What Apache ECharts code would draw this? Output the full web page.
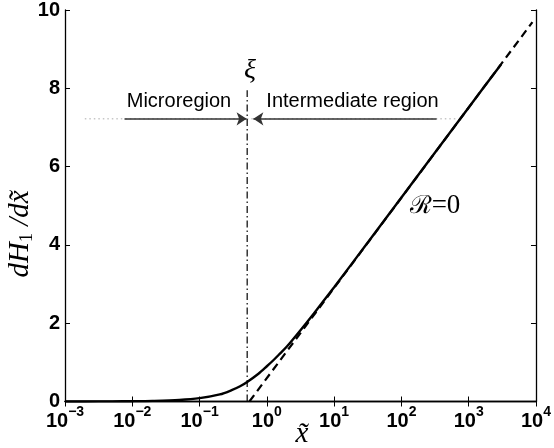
<!DOCTYPE html>
<html>
<head>
<meta charset="utf-8">
<script src="https://cdn.jsdelivr.net/npm/echarts@6/dist/echarts.min.js"></script>
<style>html,body{margin:0;padding:0;background:#fff}#c{width:554px;height:448px}</style>
</head>
<body>
<div id="c"></div>
<script>
// Solid curve (R=0)
const solidX = [0.001, 0.002, 0.005, 0.01, 0.02, 0.05, 0.1, 0.2, 0.3, 0.4, 0.51, 0.75, 1.0, 1.26, 1.58, 2.0, 3.16, 5.0, 10, 31.6, 100, 1000, 3020];
const solidY = [0.0, 0.001, 0.004, 0.008, 0.016, 0.04, 0.085, 0.18, 0.29, 0.39, 0.50, 0.71, 0.90, 1.06, 1.23, 1.41, 1.82, 2.25, 2.92, 4.06, 5.21, 7.51, 8.61];
// Dashed asymptote
const dashX = [0.55, 8850];
const dashY = [0.0, 9.69];
// Vertical xi line
const xiX = [0.51, 0.51];
const xiY = [0.0, 7.95];
// Dotted guide line
const guideX = [0.00197, 680];
const guideY = [7.22, 7.22];
// Arrows
const arrowY = 7.22;
const leftArrowX = [0.00766, 0.50];
const rightArrowX = [333, 0.63];
// Axis ticks
const yTicks = [0, 2, 4, 6, 8, 10];
const xMin = 0.001, xMax = 10000;

const zip = (a, b) => a.map((v, i) => [v, b[i]]);

const chart = echarts.init(document.getElementById('c'), null, {renderer: 'canvas'});

const axisLineStyle = {color: '#000', width: 1.3};
const tickStyle = {show: true, inside: true, length: 5, lineStyle: {color: '#000', width: 1}};

const option = {
  animation: false,
  backgroundColor: '#fff',
  grid: {left: 65, right: 14, top: 6, bottom: 46.5},
  xAxis: [{
    type: 'log', logBase: 10, min: xMin, max: xMax, splitNumber: 7,
    position: 'bottom',
    axisLine: {show: true, lineStyle: axisLineStyle},
    axisTick: tickStyle,
    splitLine: {show: false},
    minorTick: {show: false},
    axisLabel: {
      margin: 4, showMinLabel: true, showMaxLabel: true,
      formatter: function (v) {
        const e = Math.round(Math.log10(v));
        return '{b|10}{s|' + (e < 0 ? '\u2212' + (-e) : e) + '}';
      },
      rich: {
        b: {fontFamily: 'Liberation Sans', fontWeight: 'bold', fontSize: 20, lineHeight: 26, verticalAlign: 'bottom', color: '#000'},
        s: {fontFamily: 'Liberation Sans', fontWeight: 'bold', fontSize: 14, lineHeight: 15, verticalAlign: 'top', color: '#000'}
      }
    }
  }, {
    type: 'log', logBase: 10, min: xMin, max: xMax, splitNumber: 7,
    position: 'top',
    axisLine: {show: true, lineStyle: axisLineStyle},
    axisTick: tickStyle,
    axisLabel: {show: false},
    splitLine: {show: false},
    minorTick: {show: false}
  }],
  yAxis: [{
    type: 'value', min: yTicks[0], max: yTicks[yTicks.length - 1], interval: 2,
    position: 'left',
    axisLine: {show: true, lineStyle: axisLineStyle},
    axisTick: tickStyle,
    splitLine: {show: false},
    axisLabel: {margin: 5, fontFamily: 'Liberation Sans', fontWeight: 'bold', fontSize: 20, color: '#000'}
  }, {
    type: 'value', min: yTicks[0], max: yTicks[yTicks.length - 1], interval: 2,
    position: 'right',
    axisLine: {show: true, lineStyle: axisLineStyle},
    axisTick: tickStyle,
    splitLine: {show: false},
    axisLabel: {show: false}
  }],
  series: [
    {
      name: 'guide', type: 'line', data: zip(guideX, guideY), symbol: 'none',
      lineStyle: {color: '#aaaaaa', width: 1, type: [1.5, 3]}, z: 1
    },
    {
      name: 'asymptote', type: 'line', data: zip(dashX, dashY), symbol: 'none',
      lineStyle: {color: '#000', width: 2.2, type: [8, 5]}, z: 2
    },
    {
      name: 'xi', type: 'line', data: zip(xiX, xiY), symbol: 'none',
      lineStyle: {color: '#000', width: 1.2, type: [7, 3, 1.5, 3]}, z: 2
    },
    {
      name: 'R=0', type: 'line', data: zip(solidX, solidY), symbol: 'none',
      smooth: 0.3,
      lineStyle: {color: '#000', width: 2.4}, z: 3
    },
    {
      name: 'arrows', type: 'line', data: [], symbol: 'none', z: 4,
      markLine: {
        silent: true, animation: false,
        symbol: ['none', 'arrow'], symbolSize: 10,
        label: {show: false},
        lineStyle: {color: '#333', width: 1.5, type: 'solid'},
        itemStyle: {color: '#000'},
        data: [
          [{coord: [leftArrowX[0], arrowY]}, {coord: [leftArrowX[1], arrowY]}],
          [{coord: [rightArrowX[0], arrowY]}, {coord: [rightArrowX[1], arrowY]}]
        ]
      }
    }
  ],
  graphic: [
    {type: 'text', x: 179, y: 101.5, style: {text: 'Microregion', fontFamily: 'Liberation Sans', fontSize: 20, fill: '#000', align: 'center', verticalAlign: 'middle'}},
    {type: 'text', x: 352.5, y: 101.5, style: {text: 'Intermediate region', fontFamily: 'Liberation Sans', fontSize: 20, fill: '#000', align: 'center', verticalAlign: 'middle'}},
    {type: 'text', x: 250, y: 71, style: {text: '\u03BE', fontFamily: 'Liberation Serif', fontStyle: 'italic', fontSize: 28, fill: '#000', align: 'center', verticalAlign: 'middle'}},
    {type: 'text', x: 435, y: 206, style: {
      text: '{r|\u211B}{n|=0}', align: 'center', verticalAlign: 'middle',
      rich: {
        r: {fontFamily: 'DejaVu Serif', fontSize: 25, fill: '#000'},
        n: {fontFamily: 'Liberation Serif', fontSize: 27, fill: '#000'}
      }
    }},
    {type: 'text', x: 302, y: 434, style: {text: 'x\u0303', fontFamily: 'Liberation Serif', fontStyle: 'italic', fontSize: 29, fill: '#000', align: 'center', verticalAlign: 'middle'}},
    {type: 'text', x: 20, y: 234, rotation: Math.PI / 2, style: {
      text: '{i|dH}{s|1}{i| /d}{i|x\u0303}', align: 'center', verticalAlign: 'middle',
      rich: {
        i: {fontFamily: 'Liberation Serif', fontStyle: 'italic', fontSize: 29, lineHeight: 32, verticalAlign: 'middle', fill: '#000'},
        s: {fontFamily: 'Liberation Serif', fontSize: 18, lineHeight: 21, verticalAlign: 'bottom', fill: '#000'}
      }
    }}
  ]
};
chart.setOption(option);
</script>
</body>
</html>
